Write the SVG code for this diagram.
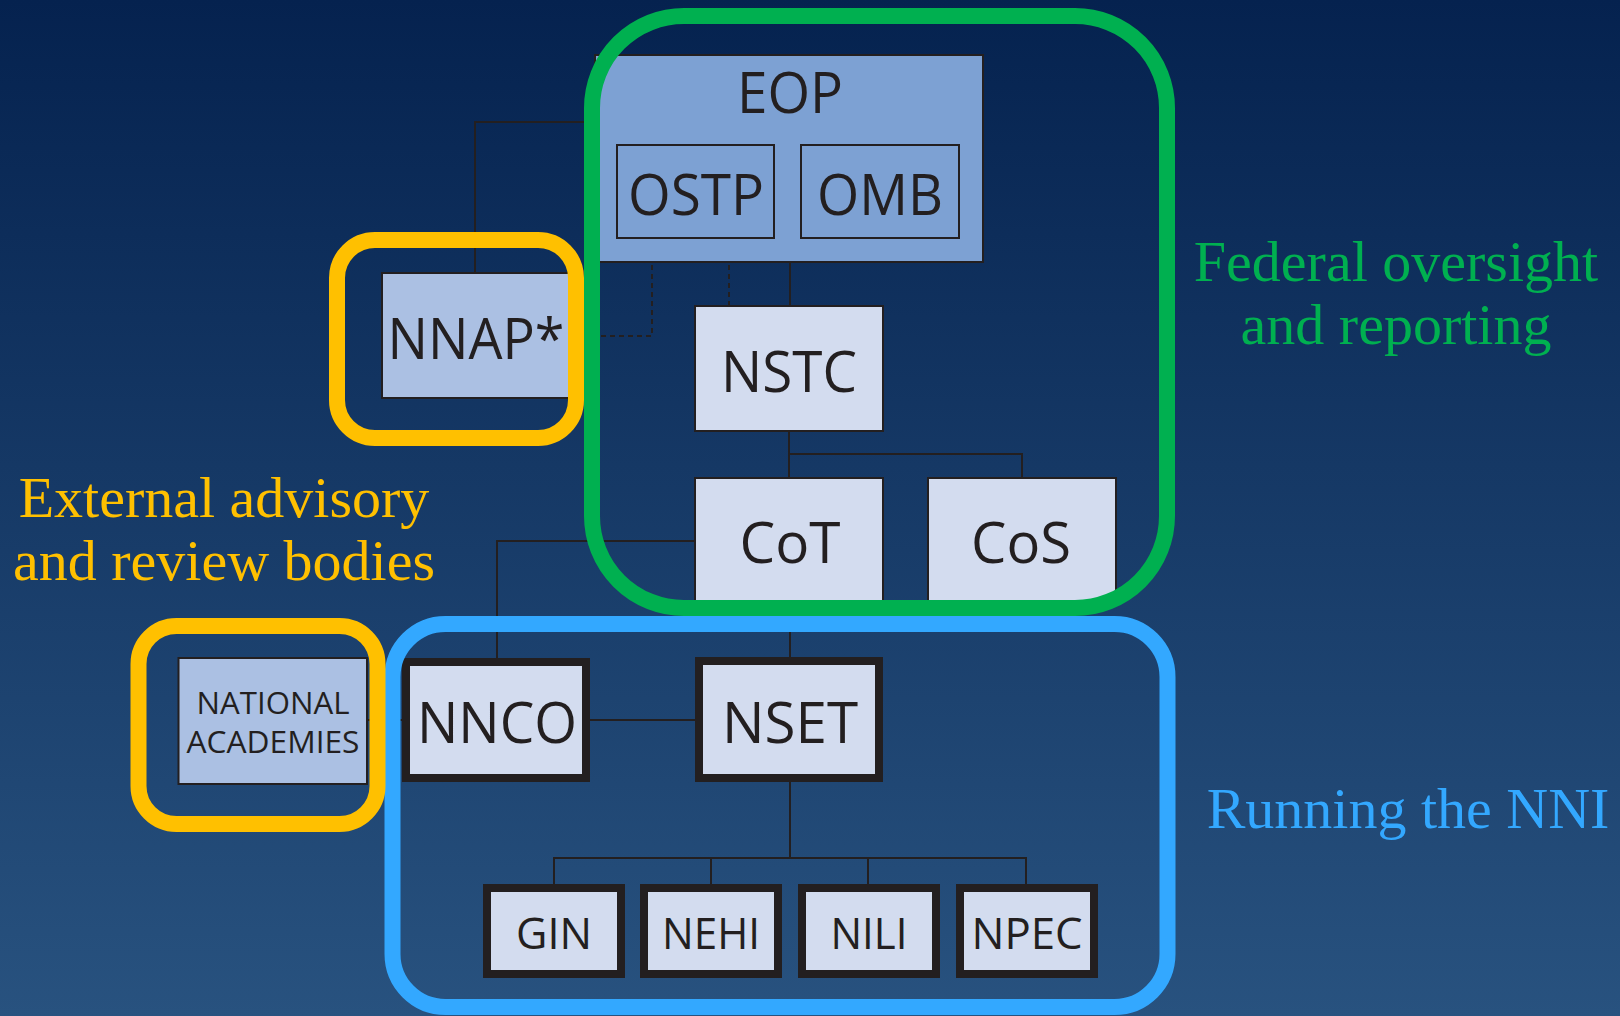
<svg xmlns="http://www.w3.org/2000/svg" width="1620" height="1016" viewBox="0 0 1620 1016">
  <defs>
    <linearGradient id="bg" x1="0" y1="0" x2="0" y2="1">
      <stop offset="0" stop-color="#05224f"/>
      <stop offset="1" stop-color="#28527f"/>
    </linearGradient>
  </defs>
  <style>
    .ln { fill: none; stroke: #231f20; stroke-width: 2; }
    .dash { fill: none; stroke: #231f20; stroke-width: 2; stroke-dasharray: 5 4; }
    .eop { fill: #7da1d3; stroke: #231f20; stroke-width: 2; }
    .mid { fill: #abc0e3; stroke: #231f20; stroke-width: 2; }
    .lt { fill: #d3dcef; stroke: #231f20; stroke-width: 2; }
    .thick { fill: #d3dcef; stroke: #231f20; stroke-width: 8; }
    .t { font-family: "Open Sans", "Noto Sans", "Liberation Sans", sans-serif; fill: #231f20; text-anchor: middle; }
    .big { font-size: 57px; }
    .sm { font-size: 31px; }
    .ch { font-size: 44px; }
    .hl { fill: none; stroke-width: 16; }
    .lab { font-family: "Liberation Serif", "DejaVu Serif", serif; font-size: 58px; text-anchor: middle; }
  </style>
  <rect x="0" y="0" width="1620" height="1016" fill="url(#bg)"/>

  <g id="connectors">
    <path class="ln" d="M595,122 H475 V273"/>
    <path class="dash" d="M652,238 V336 H571"/>
    <path class="dash" d="M729,238 V306"/>
    <path class="ln" d="M790,262 V306"/>
    <path class="ln" d="M789,431 V478"/>
    <path class="ln" d="M789,454 H1022 V478"/>
    <path class="ln" d="M695,541 H497 V658"/>
    <path class="ln" d="M790,603 V657"/>
    <path class="ln" d="M590,720 H695"/>
    <path class="ln" d="M367,720 H402"/>
    <path class="ln" d="M790,782 V858"/>
    <path class="ln" d="M554,884 V858 H1026 V884"/>
    <path class="ln" d="M711,858 V884"/>
    <path class="ln" d="M868,858 V884"/>
  </g>

  <g id="eop">
    <rect class="eop" x="595" y="55" width="388" height="207"/>
    <text class="t big" x="790" y="113" textLength="106" lengthAdjust="spacingAndGlyphs">EOP</text>
  </g>
  <g id="ostp">
    <rect class="eop" x="617" y="145" width="157" height="93"/>
    <text class="t big" x="696" y="215" textLength="136" lengthAdjust="spacingAndGlyphs">OSTP</text>
  </g>
  <g id="omb">
    <rect class="eop" x="801" y="145" width="158" height="93"/>
    <text class="t big" x="880" y="215" textLength="126" lengthAdjust="spacingAndGlyphs">OMB</text>
  </g>
  <g id="nnap">
    <rect class="mid" x="382" y="273" width="189" height="125"/>
    <text class="t big" x="476" y="359" textLength="177" lengthAdjust="spacingAndGlyphs">NNAP*</text>
  </g>
  <g id="nstc">
    <rect class="lt" x="695" y="306" width="188" height="125"/>
    <text class="t big" x="789" y="392" textLength="136" lengthAdjust="spacingAndGlyphs">NSTC</text>
  </g>
  <g id="cot">
    <rect class="lt" x="695" y="478" width="188" height="125"/>
    <text class="t big" x="790" y="563" textLength="101" lengthAdjust="spacingAndGlyphs">CoT</text>
  </g>
  <g id="cos">
    <rect class="lt" x="928" y="478" width="188" height="125"/>
    <text class="t big" x="1021" y="563" textLength="100" lengthAdjust="spacingAndGlyphs">CoS</text>
  </g>
  <g id="national-academies">
    <rect class="mid" x="178.5" y="658" width="188.5" height="126"/>
    <text class="t sm" x="273" y="714" textLength="153" lengthAdjust="spacingAndGlyphs">NATIONAL</text>
    <text class="t sm" x="273" y="753" textLength="173" lengthAdjust="spacingAndGlyphs">ACADEMIES</text>
  </g>
  <g id="nnco">
    <rect class="thick" x="406" y="662" width="180" height="116"/>
    <text class="t big" x="497" y="743" textLength="160" lengthAdjust="spacingAndGlyphs">NNCO</text>
  </g>
  <g id="nset">
    <rect class="thick" x="699" y="661" width="180" height="117"/>
    <text class="t big" x="790" y="743" textLength="136" lengthAdjust="spacingAndGlyphs">NSET</text>
  </g>
  <g id="gin">
    <rect class="thick" x="487" y="888" width="134" height="86"/>
    <text class="t ch" x="554" y="949" textLength="76" lengthAdjust="spacingAndGlyphs">GIN</text>
  </g>
  <g id="nehi">
    <rect class="thick" x="644" y="888" width="134" height="86"/>
    <text class="t ch" x="711" y="949" textLength="98" lengthAdjust="spacingAndGlyphs">NEHI</text>
  </g>
  <g id="nili">
    <rect class="thick" x="802" y="888" width="134" height="86"/>
    <text class="t ch" x="869" y="949" textLength="77" lengthAdjust="spacingAndGlyphs">NILI</text>
  </g>
  <g id="npec">
    <rect class="thick" x="960" y="888" width="134" height="86"/>
    <text class="t ch" x="1027" y="949" textLength="111" lengthAdjust="spacingAndGlyphs">NPEC</text>
  </g>

  <g id="federal-oversight">
    <rect class="hl" x="592" y="16" width="575" height="592" rx="92" stroke="#00b050"/>
    <text class="lab" x="1396" y="281" fill="#00b050">Federal oversight</text>
    <text class="lab" x="1396" y="344" fill="#00b050">and reporting</text>
  </g>
  <g id="running-nni">
    <rect class="hl" x="392.5" y="624" width="775" height="383" rx="53" stroke="#33a8ff"/>
    <text class="lab" x="1408" y="828" fill="#33a8ff">Running the NNI</text>
  </g>
  <g id="external-advisory">
    <rect class="hl" x="337" y="240" width="239" height="198" rx="38" stroke="#ffc000"/>
    <rect class="hl" x="138.5" y="626" width="239" height="198" rx="38" stroke="#ffc000"/>
    <text class="lab" x="224" y="517" fill="#ffc000">External advisory</text>
    <text class="lab" x="224" y="580" fill="#ffc000">and review bodies</text>
  </g>
</svg>
